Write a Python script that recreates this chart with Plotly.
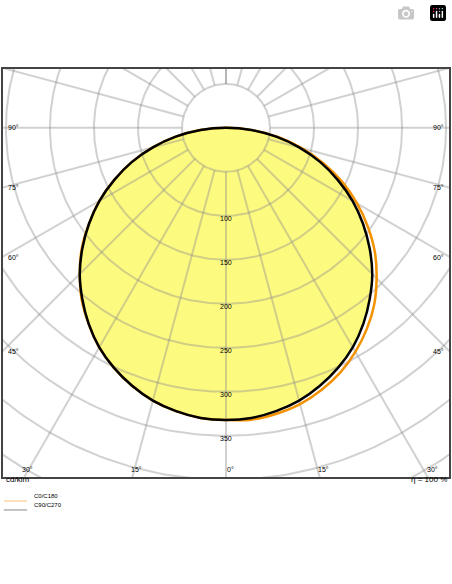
import numpy as np
import plotly.graph_objects as go

# light distribution, cd/klm, gamma angles in degrees
gamma = [0, 5, 10, 15, 20, 25, 30, 35, 40, 45, 50, 55, 60, 65, 70, 75, 80, 85, 90]
c0 = [334, 333, 330, 325, 317, 307, 294, 279, 262, 242, 221, 197, 172, 146, 118, 89, 60, 30, 0]   # C0 side (right)
c180 = [332, 331, 327, 321, 312, 301, 288, 272, 255, 235, 214, 190, 166, 140, 114, 86, 58, 29, 0]  # C180 side (left)
c90 = [332, 331, 327, 321, 312, 301, 288, 272, 254, 235, 213, 190, 166, 140, 114, 86, 58, 29, 0]
c270 = [332, 331, 327, 321, 312, 301, 288, 272, 254, 235, 213, 190, 166, 140, 114, 86, 58, 29, 0]

ring_vals = [50, 100, 150, 200, 250, 300, 350, 400, 450, 500]
ring_labels = [100, 150, 200, 250, 300, 350]
spoke_angles = list(range(-180, 181, 15))
side_labels = [90, 75, 60, 45]
bottom_labels = [30, 15, 0, 15, 30]
bottom_angles = [-30, -15, 0, 15, 30]

XMAX, YMIN, YMAX = 254.5, -398, 68


def curve(right, left):
    g = np.radians(gamma)
    xr = np.array(right) * np.sin(g)
    yr = -np.array(right) * np.cos(g)
    xl = -np.array(left) * np.sin(g)
    yl = -np.array(left) * np.cos(g)
    x = np.concatenate([xl[::-1], xr[1:]])
    y = np.concatenate([yl[::-1], yr[1:]])
    return x, y


fig = go.Figure()

xb, yb = curve(c90, c270)
fig.add_trace(go.Scatter(x=xb, y=yb, fill="toself", fillcolor="#fdfa80",
                         line=dict(color="rgba(0,0,0,0)", shape="spline"), hoverinfo="skip"))

# grid
t = np.radians(np.linspace(0, 360, 361))
gc = "rgba(140,140,140,0.4)"
for r in ring_vals:
    fig.add_trace(go.Scatter(x=r * np.cos(t), y=r * np.sin(t), mode="lines",
                             line=dict(color=gc, width=2), hoverinfo="skip"))
for a in spoke_angles:
    ar = np.radians(a)
    fig.add_trace(go.Scatter(x=[50 * np.sin(ar), 700 * np.sin(ar)],
                             y=[-50 * np.cos(ar), -700 * np.cos(ar)], mode="lines",
                             line=dict(color=gc, width=2), hoverinfo="skip"))

xo, yo = curve(c0, c180)
fig.add_trace(go.Scatter(x=xo, y=yo, mode="lines", line=dict(color="#f39200", width=2.5, shape="spline")))
fig.add_trace(go.Scatter(x=xb, y=yb, mode="lines", line=dict(color="black", width=2.5, shape="spline")))

font = dict(family="Liberation Sans", size=7, color="black")
for v in ring_labels:
    fig.add_annotation(x=0, y=-v, text=str(v), showarrow=False, font=font, yshift=-3)
for a in side_labels:
    yy = -XMAX / np.tan(np.radians(a)) if a != 90 else 0
    for sx, anc in [(-XMAX, "left"), (XMAX, "right")]:
        fig.add_annotation(x=sx, y=yy, text=f"{a}°", showarrow=False, font=font,
                           xanchor=anc, xshift=4 if sx < 0 else -4)
for a, lab in zip(bottom_angles, bottom_labels):
    xx = -YMIN * np.tan(np.radians(a))
    fig.add_annotation(x=xx, y=YMIN, text=f"{lab}°", showarrow=False, font=font,
                       yanchor="bottom", yshift=3, xshift=4)

# box and footer
fig.add_shape(type="rect", xref="paper", yref="paper", x0=0, y0=0, x1=1, y1=1,
              line=dict(color="#444", width=2))
foot = dict(family="Liberation Sans", size=8, color="black")
fig.add_annotation(xref="paper", yref="paper", x=0.004, y=-0.02, text="cd/klm", showarrow=False,
                   xanchor="left", font=foot)
fig.add_annotation(xref="paper", yref="paper", x=0.998, y=-0.02, text="η = 100 %", showarrow=False,
                   xanchor="right", font=foot)
for yy, col, name in [(-0.056, "#fbc27a", "C0/C180"), (-0.078, "#888", "C90/C270")]:
    fig.add_shape(type="line", xref="paper", yref="paper", x0=0.004, x1=0.056, y0=yy, y1=yy,
                  line=dict(color=col, width=1))
    fig.add_annotation(xref="paper", yref="paper", x=0.066, y=yy, text=name, showarrow=False,
                       xanchor="left", font=dict(family="Liberation Sans", size=6, color="black"))

fig.update_xaxes(range=[-XMAX, XMAX], visible=False, fixedrange=True)
fig.update_yaxes(range=[YMIN, YMAX], visible=False, fixedrange=True)
fig.update_layout(width=452, height=584, margin=dict(l=2, r=2, t=68, b=106),
                  showlegend=False, plot_bgcolor="white", paper_bgcolor="white")
fig.write_html("out.html", post_script="document.body.style.margin='0';")
